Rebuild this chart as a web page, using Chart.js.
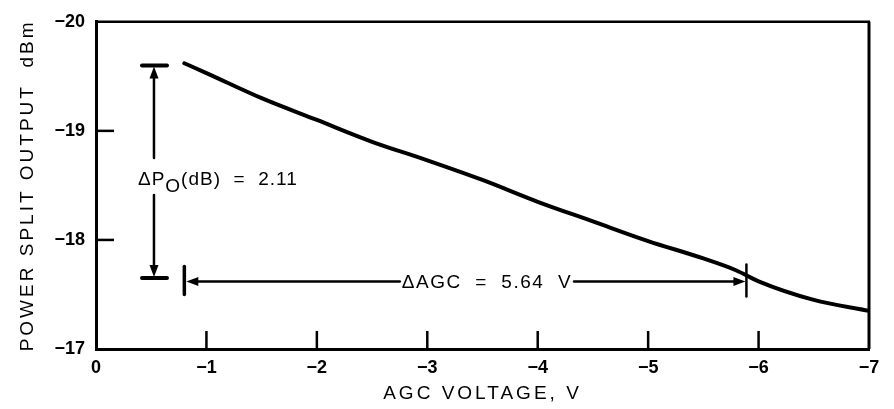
<!DOCTYPE html>
<html>
<head>
<meta charset="utf-8">
<script src="https://cdn.jsdelivr.net/npm/chart.js@4.4.1/dist/chart.umd.min.js"></script>
<style>
  html, body { margin: 0; padding: 0; background: #fff; }
  #wrap { width: 894px; height: 409px; }
</style>
</head>
<body>
<div id="wrap"><canvas id="powerChart"></canvas></div>
<script>
// Curve (AGC voltage in V, power split output in dBm)
const agcVoltage = [-0.8, -1, -1.5, -2, -2.5, -3, -3.5, -4, -4.5, -5, -5.5, -5.8, -6, -6.5, -7];
const powerOut   = [-19.62, -19.53, -19.30, -19.10, -18.90, -18.73, -18.55, -18.35, -18.17, -17.99, -17.83, -17.72, -17.62, -17.45, -17.35];

// Axis ticks
const xTickValues = [0, -1, -2, -3, -4, -5, -6, -7];
const yTickValues = [-20, -19, -18, -17];

// Dimension markers
const deltaPo = { x: -0.525, top: -19.6, bottom: -17.65, label: '2.11' };
const deltaAgc = { y: -17.62, left: -0.8, right: -5.89, labelX: -3.54, label: 'ΔAGC  =  5.64  V' };

const INK = '#000';
const FONT = '"Liberation Sans", Arial, Helvetica, sans-serif';

function fmt(v) {
    return v === 0 ? '0' : '\u2212' + Math.abs(v);
}

function arrowHead(c, x, y, dir) {
    // dir: 'up' | 'down' | 'left' | 'right', tip at (x, y)
    const len = 12, half = 4.5;
    c.beginPath();
    c.moveTo(x, y);
    if (dir === 'up') { c.lineTo(x - half, y + len); c.lineTo(x + half, y + len); }
    if (dir === 'down') { c.lineTo(x - half, y - len); c.lineTo(x + half, y - len); }
    if (dir === 'left') { c.lineTo(x + len, y - half); c.lineTo(x + len, y + half); }
    if (dir === 'right') { c.lineTo(x - len, y - half); c.lineTo(x - len, y + half); }
    c.closePath();
    c.fill();
}

function line(c, x1, y1, x2, y2, w) {
    c.lineWidth = w;
    c.beginPath();
    c.moveTo(x1, y1);
    c.lineTo(x2, y2);
    c.stroke();
}

// wide letter spacing for the axis titles only (old typeset look)
const spacedTitles = {
    id: 'spacedTitles',
    beforeDraw(chart) {
        Object.values(chart.scales).forEach(s => {
            if (s._spaced) return;
            const orig = s.drawTitle.bind(s);
            s.drawTitle = function () {
                const c = this.ctx;
                const prev = c.letterSpacing;
                c.letterSpacing = '3px';
                orig();
                c.letterSpacing = prev || '0px';
            };
            s._spaced = true;
        });
    }
};

// Frame (top/right) and inward tick marks
const framePlugin = {
    id: 'frame',
    beforeDatasetsDraw(chart) {
        const c = chart.ctx, a = chart.chartArea;
        const xs = chart.scales.x, ys = chart.scales.y;
        c.save();
        c.strokeStyle = INK;
        c.lineCap = 'butt';
        line(c, a.left, a.top, a.right + 1, a.top, 2.5);
        line(c, a.right, a.top, a.right, a.bottom, 3);
        xTickValues.slice(1, -1).forEach(v => {
            const px = xs.getPixelForValue(v);
            line(c, px, a.bottom, px, a.bottom - 18, 2.5);
        });
        yTickValues.slice(1, -1).forEach(v => {
            const py = ys.getPixelForValue(v);
            line(c, a.left, py, a.left + 18, py, 2.5);
        });
        c.restore();
    }
};

// ΔPo and ΔAGC dimension lines
const dimensionPlugin = {
    id: 'dimensions',
    afterDatasetsDraw(chart) {
        const c = chart.ctx;
        const xs = chart.scales.x, ys = chart.scales.y;
        c.save();
        c.strokeStyle = INK;
        c.fillStyle = INK;
        c.lineCap = 'round';

        // vertical: ΔPo
        const vx = xs.getPixelForValue(deltaPo.x);
        const vTop = ys.getPixelForValue(deltaPo.top);
        const vBot = ys.getPixelForValue(deltaPo.bottom);
        line(c, vx - 12, vTop, vx + 13, vTop, 4);
        line(c, vx - 12, vBot, vx + 13, vBot, 4);
        line(c, vx, vTop + 8, vx, 158, 2.5);
        line(c, vx, 195, vx, vBot - 8, 2.5);
        arrowHead(c, vx, vTop + 1, 'up');
        arrowHead(c, vx, vBot - 1, 'down');

        c.letterSpacing = '1px';
        c.textBaseline = 'alphabetic';
        c.textAlign = 'left';
        c.font = '19px ' + FONT;
        let tx = vx - 16;
        const ty = 185;
        c.fillText('ΔP', tx, ty);
        tx += c.measureText('ΔP').width;
        c.fillText('O', tx, ty + 7);
        tx += c.measureText('O').width;
        c.fillText('(dB)  =  ' + deltaPo.label, tx, ty);

        // horizontal: ΔAGC
        const hy = ys.getPixelForValue(deltaAgc.y);
        const hl = xs.getPixelForValue(deltaAgc.left);
        const hr = xs.getPixelForValue(deltaAgc.right);
        line(c, hl, hy - 15, hl, hy + 13, 3.5);
        line(c, hr, hy - 17, hr, hy + 15, 2.5);
        c.letterSpacing = '1.5px';
        c.textAlign = 'center';
        c.textBaseline = 'middle';
        const lx = xs.getPixelForValue(deltaAgc.labelX);
        const tw = c.measureText(deltaAgc.label).width;
        c.fillText(deltaAgc.label, lx, hy + 1);
        c.letterSpacing = '0px';
        line(c, hl + 8, hy, lx - tw / 2 - 2, hy, 2.5);
        line(c, lx + tw / 2 + 2, hy, hr - 8, hy, 2.5);
        arrowHead(c, hl + 2, hy, 'left');
        arrowHead(c, hr - 1, hy, 'right');
        c.restore();
    }
};

const ctx = document.getElementById('powerChart').getContext('2d');

const powerChart = new Chart(ctx, {
    type: 'line',
    data: {
        datasets: [{
            data: agcVoltage.map((v, i) => ({ x: v, y: powerOut[i] })),
            borderColor: INK,
            borderWidth: 4,
            borderCapStyle: 'round',
            pointRadius: 0,
            cubicInterpolationMode: 'monotone',
            fill: false
        }]
    },
    options: {
        responsive: true,
        maintainAspectRatio: false,
        animation: false,
        events: [],
        layout: { padding: { top: 16, right: 25, left: 0, bottom: 0 } },
        plugins: { legend: { display: false }, tooltip: { enabled: false } },
        scales: {
            x: {
                type: 'linear',
                min: -7, max: 0,
                reverse: true,
                afterFit: s => { s.height = 60; },
                afterBuildTicks: s => { s.ticks = xTickValues.map(v => ({ value: v })); },
                grid: { display: false, drawTicks: false },
                border: { display: true, color: INK, width: 3 },
                ticks: {
                    color: INK,
                    padding: 8,
                    maxRotation: 0,
                    font: { family: FONT, size: 18, weight: 'bold' },
                    callback: v => fmt(v)
                },
                title: {
                    display: true,
                    text: 'AGC VOLTAGE, V',
                    color: INK,
                    font: { family: FONT, size: 19 },
                    padding: { top: 0, bottom: 4 }
                }
            },
            y: {
                type: 'linear',
                min: -20, max: -17,
                reverse: true,
                afterFit: s => { s.width = 96; },
                afterBuildTicks: s => { s.ticks = yTickValues.map(v => ({ value: v })); },
                grid: { display: false, drawTicks: false },
                border: { display: true, color: INK, width: 3 },
                ticks: {
                    color: INK,
                    padding: 11,
                    font: { family: FONT, size: 18, weight: 'bold' },
                    callback: v => fmt(v)
                },
                title: {
                    display: true,
                    text: 'POWER SPLIT OUTPUT  dBm',
                    color: INK,
                    font: { family: FONT, size: 19 },
                    padding: { top: 16, bottom: 0 }
                }
            }
        }
    },
    plugins: [spacedTitles, framePlugin, dimensionPlugin]
});
</script>
</body>
</html>
